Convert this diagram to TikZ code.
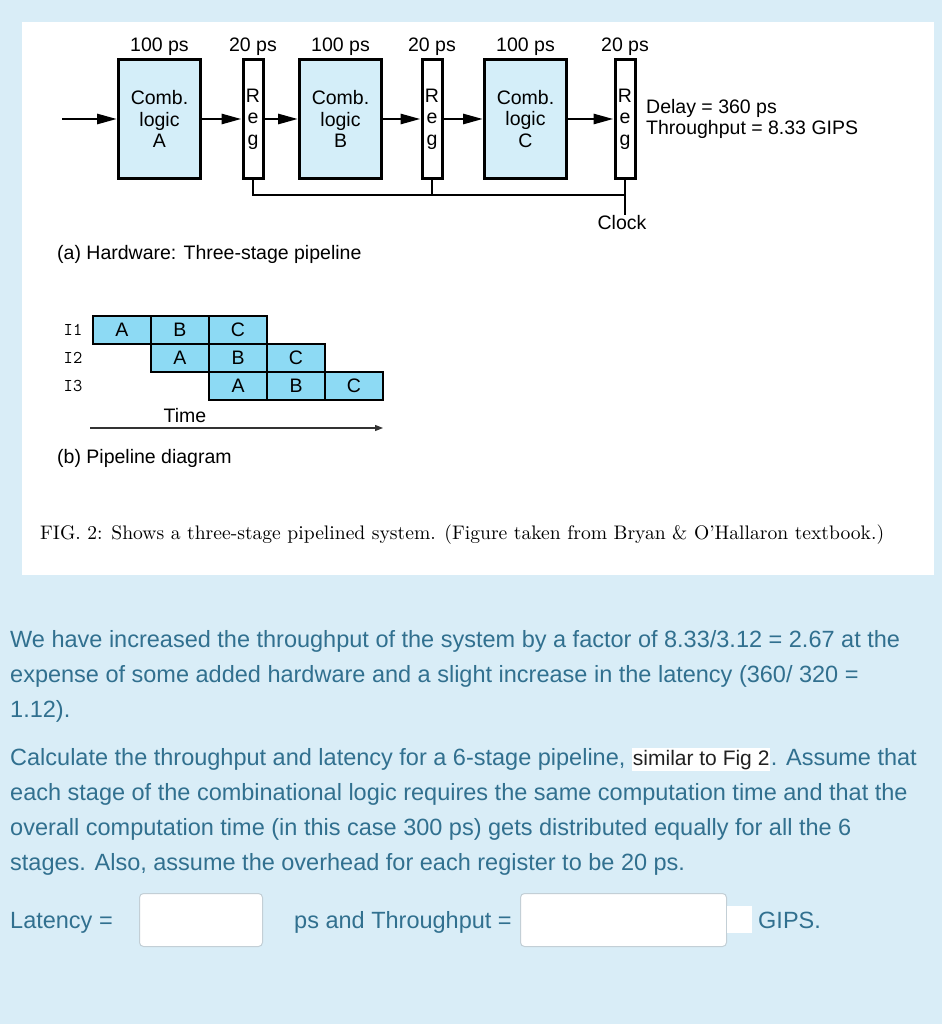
\documentclass[tikz,border=0pt]{standalone}
\usepackage{fontspec}
\setsansfont{Liberation Sans}
\newfontfamily\capfont{lmroman10-regular.otf}
\usetikzlibrary{arrows.meta,positioning}
\definecolor{infobg}{HTML}{D9EDF7}
\definecolor{infotext}{HTML}{31708F}
\definecolor{combfill}{HTML}{D4EEF9}
\definecolor{cellfill}{HTML}{8DDAF4}
\definecolor{fieldline}{HTML}{C3CFD6}
\newcommand{\figfont}{\sffamily\fontsize{19.5}{21.5}\selectfont}
\newcommand{\bodyfont}{\sffamily\fontsize{23.5}{35}\selectfont}

\begin{document}
\begin{tikzpicture}[x=1pt,y=-1pt,>={Triangle[length=20pt,width=10pt]},
  comb/.style={draw,line width=3pt,fill=combfill,minimum width=82pt,
    minimum height=119pt,align=center,inner sep=0pt,font=\figfont},
  reg/.style={draw,line width=3pt,fill=white,minimum width=20pt,
    minimum height=119pt,align=center,inner sep=0pt,font=\figfont},
  wire/.style={line width=2.8pt},
  delay/.style={anchor=base,inner sep=0pt,font=\figfont},
  cell/.style={draw,line width=2.8pt,fill=cellfill,minimum width=58pt,
    minimum height=28pt,inner sep=0pt,font=\figfont},
  rowlbl/.style={font=\ttfamily\fontsize{18}{18}\selectfont},
  txt/.style={anchor=base west,inner sep=0pt,font=\bodyfont,text=infotext},
  field/.style={draw=fieldline,fill=white,rounded corners=4pt,line width=1pt,
    minimum height=53pt,inner sep=0pt}]
  \useasboundingbox (0,0) rectangle (942,1024);
  \fill[infobg] (0,0) rectangle (942,1024);
  \fill[white] (22,22) rectangle (934,575);

  \node[comb] (combA) at (159.5,119) {Comb.\\logic\\A};
  \node[reg] (reg1) at (253,119) {R\\e\\g};
  \node[comb] (combB) at (340.5,119) {Comb.\\logic\\B};
  \node[reg] (reg2) at (432,119) {R\\e\\g};
  \node[comb] (combC) at (525.5,119) {Comb.\\logic\\C};
  \node[reg] (reg3) at (625,119) {R\\e\\g};
  \foreach \n/\t in {combA/100,reg1/20,combB/100,reg2/20,combC/100,reg3/20}
    \node[delay] at (\n.north |- 0,52) {\t{} ps};
  \coordinate (in) at (62,119);
  \draw[wire,->] (in) -- (combA);
  \draw[wire,->] (combA) -- (reg1);
  \draw[wire,->] (reg1) -- (combB);
  \draw[wire,->] (combB) -- (reg2);
  \draw[wire,->] (reg2) -- (combC);
  \draw[wire,->] (combC) -- (reg3);
  \node[anchor=west,align=left,inner sep=0pt,font=\figfont] (perf) at (646,119)
    {Delay = 360 ps\\Throughput = 8.33 GIPS};
  \node[font=\figfont,inner sep=1pt] (clock) at (622,223) {Clock};
  \coordinate (bus) at (625,195);
  \draw[wire] (reg1.south) |- (bus);
  \draw[wire] (reg2.south) -- (reg2.south |- bus);
  \draw[wire] (reg3.south) -- (reg3.south |- clock.north);
  \node[anchor=west,inner sep=0pt,font=\figfont] (capa) at (57,254)
    {(a) Hardware: Three-stage pipeline};

  \foreach \r/\lbl in {0/I1,1/I2,2/I3}{
    \node[rowlbl] (i\r) at (73,330+28*\r) {\lbl};
    \foreach \t [count=\s from 0] in {A,B,C}
      \node[cell] (c\r\s) at (122+58*\r+58*\s,330+28*\r) {\t};
  }
  \node[font=\figfont,inner sep=0pt] (time) at (185,416) {Time};
  \coordinate (t0) at (90,428);
  \coordinate (t1) at (383,428);
  \draw[black!80,line width=1.1pt,-{Triangle[length=8pt,width=6pt]}] (t0) -- (t1);
  \node[anchor=west,inner sep=0pt,font=\figfont] (capb) at (57,458)
    {(b) Pipeline diagram};

  \node[anchor=west,inner sep=0pt,font=\capfont\fontsize{19.6}{21}\selectfont] (fig) at (40,535)
    {FIG. 2: Shows a three-stage pipelined system. (Figure taken from Bryan \& O’Hallaron textbook.)};

  \node[txt] (l1) at (10,647) {We have increased the throughput of the system by a factor of 8.33/3.12 = 2.67 at the};
  \node[txt] (l2) at (10,682) {expense of some added hardware and a slight increase in the latency (360/ 320 =};
  \node[txt] (l3) at (10,717) {1.12).};
  \node[txt] (l4a) at (10,765) {Calculate the throughput and latency for a 6-stage pipeline,};
  \node[anchor=base west,fill=white,inner xsep=1pt,inner ysep=2pt,text=black!87,
    font=\sffamily\fontsize{21}{24}\selectfont] (l4b) at ([xshift=6pt]l4a.base east) {similar to Fig 2};
  \node[txt] (l4c) at (l4b.base east) {. Assume that};
  \node[txt] (l5) at (10,800) {each stage of the combinational logic requires the same computation time and that the};
  \node[txt] (l6) at (10,835) {overall computation time (in this case 300 ps) gets distributed equally for all the 6};
  \node[txt] (l7) at (10,870) {stages. Also, assume the overhead for each register to be 20 ps.};

  \node[txt] (lat) at (10,928) {Latency =};
  \node[field,minimum width=123pt] (latbox) at (201,920) {};
  \node[txt] (thr) at (294,928) {ps and Throughput =};
  \node[field,minimum width=206pt] (thrbox) at (623.5,920) {};
  \node[fill=white,minimum width=25pt,minimum height=27pt,inner sep=0pt] (pad) at (739.5,919.5) {};
  \node[txt] (unit) at (758,928) {GIPS.};
\end{tikzpicture}
\end{document}
